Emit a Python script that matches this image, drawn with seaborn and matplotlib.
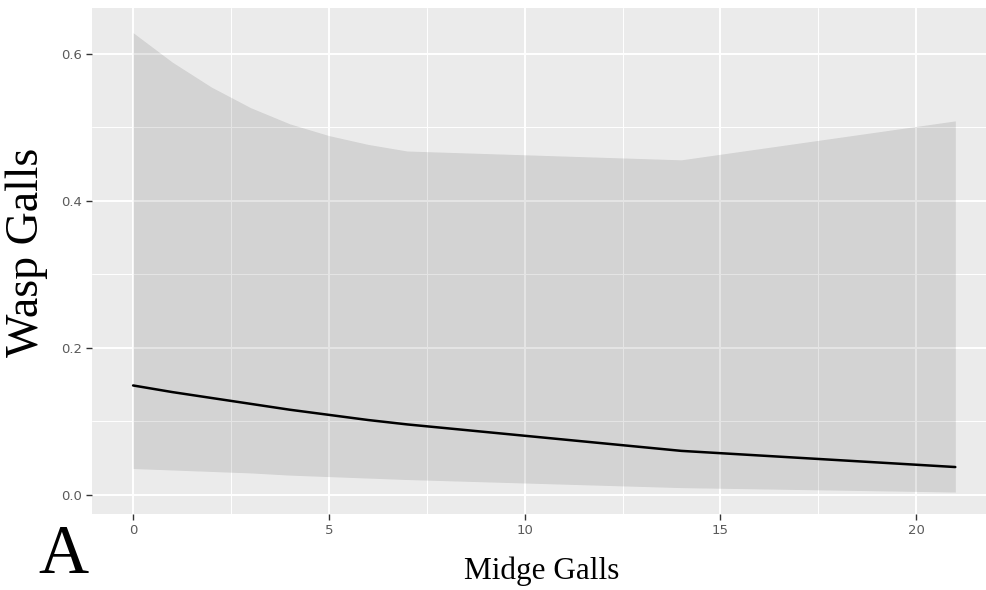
import numpy as np
import pandas as pd
import matplotlib
matplotlib.use("Agg")
import matplotlib.pyplot as plt
import seaborn as sns

# Data
midge = [0, 1, 2, 3, 4, 5, 6, 7, 14, 21]
fit = [0.149, 0.140, 0.132, 0.124, 0.116, 0.109, 0.102, 0.096, 0.060, 0.038]
upper = [0.629, 0.589, 0.555, 0.527, 0.505, 0.489, 0.477, 0.468, 0.456, 0.509]
lower = [0.036, 0.034, 0.032, 0.030, 0.027, 0.025, 0.023, 0.021, 0.010, 0.004]
xticks = [0, 5, 10, 15, 20]
yticks = [0.0, 0.2, 0.4, 0.6]
ytick_labels = ["0.0", "0.2", "0.4", "0.6"]

df = pd.DataFrame({"Midge Galls": midge, "Wasp Galls": fit,
                   "upper": upper, "lower": lower})

sns.set_theme(style="white")
W, H = 987, 590
fig = plt.figure(figsize=(W / 100, H / 100), dpi=100)
ax = fig.add_axes([92 / W, (H - 514) / H, (W - 92) / W, (514 - 8) / H])
ax.set_facecolor("#EBEBEB")
for s in ax.spines.values():
    s.set_visible(False)

ax.set_xlim(-1.05, 21.81)
ax.set_ylim(-0.0259, 0.6626)

# grid
ax.set_xticks(xticks)
ax.set_xticks([2.5, 7.5, 12.5, 17.5], minor=True)
ax.set_yticks(yticks)
ax.set_yticks([0.1, 0.3, 0.5], minor=True)
ax.grid(which="major", color="white", linewidth=1.4)
ax.grid(which="minor", color="white", linewidth=0.7)
ax.set_axisbelow(True)

ax.fill_between(df["Midge Galls"], df["lower"], df["upper"],
                color="black", alpha=0.1, linewidth=0, zorder=2)
sns.lineplot(data=df, x="Midge Galls", y="Wasp Galls", ax=ax,
             color="black", linewidth=1.8, zorder=3)

ax.set_yticklabels(ytick_labels)
ax.tick_params(axis="both", which="major", labelsize=9.5, labelcolor="#5A5A5A",
               color="#333333", length=4, width=1, pad=3, bottom=True, left=True)
ax.tick_params(axis="both", which="minor", length=0)
ax.set_xlabel("")
ax.set_ylabel("")

serif = ["Liberation Serif", "DejaVu Serif"]
fig.text(27 / W, 1 - 252 / H, "Wasp Galls", rotation=90, ha="center", va="center",
         fontsize=33, family=serif, color="black")
fig.text(542 / W, 1 - 571 / H, "Midge Galls", ha="center", va="center",
         fontsize=22.5, family=serif, color="black")
fig.text(38 / W, 1 - 573 / H, "A", ha="left", va="baseline",
         fontsize=50, family=serif, color="black")

fig.savefig("out.png", dpi=100)
